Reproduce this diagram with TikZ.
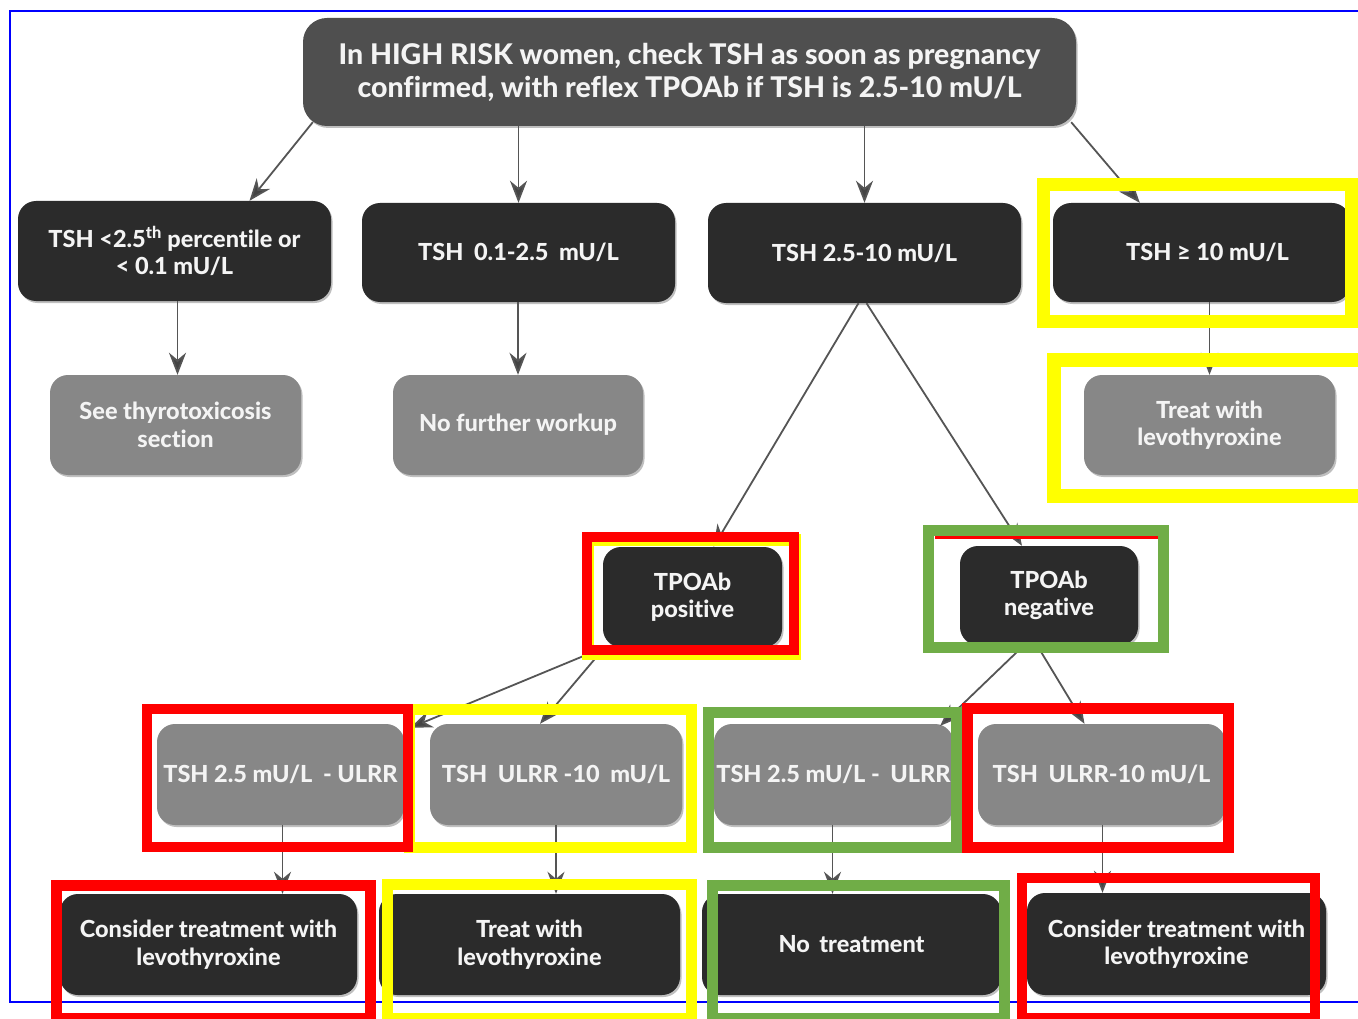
\documentclass[tikz,border=0pt]{standalone}
\usepackage{fontspec}
\setmainfont{Lato}[BoldFont={Lato Heavy}, Ligatures=NoCommon]
\usetikzlibrary{arrows.meta,shadows}
\definecolor{boxblack}{HTML}{2B2B2B}
\definecolor{topgray}{HTML}{4F4F4F}
\definecolor{boxgray}{HTML}{878787}
\definecolor{arrowgray}{HTML}{555555}
\definecolor{txtwhite}{HTML}{F4F4F4}
\definecolor{hlred}{HTML}{FF0000}
\definecolor{hlyellow}{HTML}{FFFF00}
\definecolor{hlgreen}{HTML}{70AD47}
\definecolor{frameblue}{HTML}{0000FF}
\tikzset{
  basebox/.style={rounded corners=18pt, inner sep=0pt, align=center, text=txtwhite,
    font=\bfseries\fontsize{23.5}{27.5}\selectfont,
    drop shadow={shadow xshift=1.5pt, shadow yshift=-2pt, opacity=0.25, fill=black}},
  topbox/.style={basebox, fill=topgray, rounded corners=24pt, font=\bfseries\fontsize{28.5}{33}\selectfont},
  darkbox/.style={basebox, fill=boxblack},
  lightbox/.style={basebox, fill=boxgray},
  conn/.style={draw=arrowgray, line width=1.8pt, -{Stealth[length=22pt,width=17pt,inset=7pt,fill=arrowgray!80!black]}},
  hl/.style={line width=#1, line join=miter},
}
\begin{document}
\begin{tikzpicture}[x=1pt,y=-1pt]
\useasboundingbox (0,0) rectangle (1358,1019);
\fill[white] (0,0) rectangle (1358,1019);
% blue frame
\draw[frameblue, line width=2.5pt] (1365,11) -- (10,11) -- (10,1002) -- (1365,1002);

% nodes
\node[topbox, minimum width=773pt, minimum height=108pt] (top) at (689.5,72)
  {In HIGH RISK women, check TSH as soon as pregnancy\\confirmed, with reflex TPOAb if TSH is 2.5-10 mU/L};

\node[darkbox, minimum width=313pt, minimum height=100pt] (A) at (174.5,251)
  {TSH <2.5\textsuperscript{th} percentile or\\< 0.1 mU/L};
\node[darkbox, minimum width=313pt, minimum height=99pt] (B) at (518.5,252.5)
  {TSH\hspace{0.45em}0.1-2.5\hspace{0.45em}mU/L};
\node[darkbox, minimum width=313pt, minimum height=100pt] (C) at (864.5,253)
  {TSH 2.5-10 mU/L};
\node[darkbox, minimum width=297pt, minimum height=99pt] (D) at (1201.5,252.5)
  {\hspace{12pt}TSH ≥ 10 mU/L};

\node[lightbox, minimum width=251pt, minimum height=100pt] (E) at (175.5,425)
  {See thyrotoxicosis\\section};
\node[lightbox, minimum width=250pt, minimum height=100pt] (F) at (518,425)
  {No further workup};
\node[lightbox, minimum width=251pt, minimum height=100pt] (G) at (1209.5,425)
  {Treat with\\levothyroxine};

\node[darkbox, minimum width=179pt, minimum height=100pt] (H) at (692.5,597)
  {TPOAb\\positive};
\node[darkbox, minimum width=178pt, minimum height=99pt] (I) at (1049,595.5)
  {TPOAb\\negative};

\node[lightbox, minimum width=247pt, minimum height=101pt] (J) at (280.5,774.5)
  {TSH 2.5 mU/L\hspace{0.45em}- ULRR};
\node[lightbox, minimum width=252pt, minimum height=101pt] (K) at (556,774.5)
  {TSH\hspace{0.45em}ULRR -10\hspace{0.45em}mU/L};
\node[lightbox, minimum width=239pt, minimum height=101pt] (L) at (833.5,774.5)
  {TSH 2.5 mU/L -\hspace{0.45em}ULRR};
\node[lightbox, minimum width=247pt, minimum height=101pt] (M) at (1101.5,774.5)
  {TSH\hspace{0.45em}ULRR-10 mU/L};

\node[darkbox, minimum width=297pt, minimum height=101pt] (N) at (208.5,944.5)
  {Consider treatment with\\levothyroxine};
\node[darkbox, minimum width=301pt, minimum height=101pt] (O) at (529.5,944.5)
  {Treat with\\levothyroxine};
\node[darkbox, minimum width=299pt, minimum height=101pt] (P) at (851.5,944.5)
  {No\hspace{0.4em}treatment};
\node[darkbox, minimum width=299pt, minimum height=102pt] (Q) at (1176.5,944)
  {Consider treatment with\\levothyroxine};

% connectors
\draw[conn] ([xshift=10pt,yshift=4pt]top.south west) -- ([xshift=75pt]A.north);
\draw[conn] (B.north |- top.south) -- (B.north);
\draw[conn] (C.north |- top.south) -- (C.north);
\draw[conn] ([xshift=-5pt,yshift=4pt]top.south east) -- ([xshift=87pt]D.north west);
\draw[conn] ([xshift=3pt]A.south) -- ([xshift=2pt]E.north);
\draw[conn] (F.north |- B.south) -- (F.north);
\draw[conn] (G.north |- D.south) -- (G.north);
\draw[conn] ([xshift=-6pt]C.south) -- ([xshift=21pt]H.north);
\draw[conn] ([xshift=2pt]C.south) -- ([xshift=-27pt]I.north);
\draw[conn] ([xshift=2pt]H.south west) -- ([xshift=6pt,yshift=-4pt]J.north east);
\draw[conn] ([xshift=2pt]H.south west) -- ([xshift=-16pt]K.north);
\draw[conn] ([xshift=-25pt]I.south) -- ([xshift=-13pt,yshift=-2pt]L.north east);
\draw[conn] ([xshift=-12pt]I.south) -- ([xshift=-17pt]M.north);
\draw[conn] ([xshift=2pt]J.south) -- ([xshift=2pt]J.south |- N.north);
\draw[conn] (K.south) -- (K.south |- O.north);
\draw[conn] ([xshift=-1pt]L.south) -- ([xshift=-1pt]L.south |- P.north);
\draw[conn] ([xshift=1pt]M.south) -- ([xshift=1pt]M.south |- Q.north);

% highlight rectangles
\draw[hlyellow, hl=13pt] (1043.5,184.5) rectangle (1351.5,321.5);
\draw[hlyellow, hl=14pt] (1054,360) rectangle (1366,496);
\draw[hlyellow, hl=12pt] (588,540) rectangle (795,654);
\draw[hlred, hl=10pt] (587,537) rectangle (794,650);
\draw[hlred, line width=1.5pt] (923.5,527) -- (923.5,653);
\draw[hlgreen, hl=11pt] (928.5,530.5) rectangle (1163.5,647.5);
\draw[hlred, line width=2.5pt] (935,537.5) -- (1158,537.5);
\draw[hlyellow, hl=11pt] (409,709.5) rectangle (691,847);
\draw[hlred, hl=10pt] (147,709) rectangle (408,847);
\draw[hlgreen, hl=11pt] (708.5,712.5) rectangle (956.5,847.5);
\draw[hlred, hl=11pt] (967.5,708.5) rectangle (1228.5,847.5);
\draw[hlred, hl=11pt] (56.5,885.5) rectangle (370.5,1018);
\draw[hlyellow, hl=11pt] (387,884) rectangle (691,1018);
\draw[hlgreen, hl=11pt] (712.5,885.5) rectangle (1004.5,1018);
\draw[hlred, hl=10pt] (1022,878) rectangle (1315,1018);
\end{tikzpicture}
\end{document}
